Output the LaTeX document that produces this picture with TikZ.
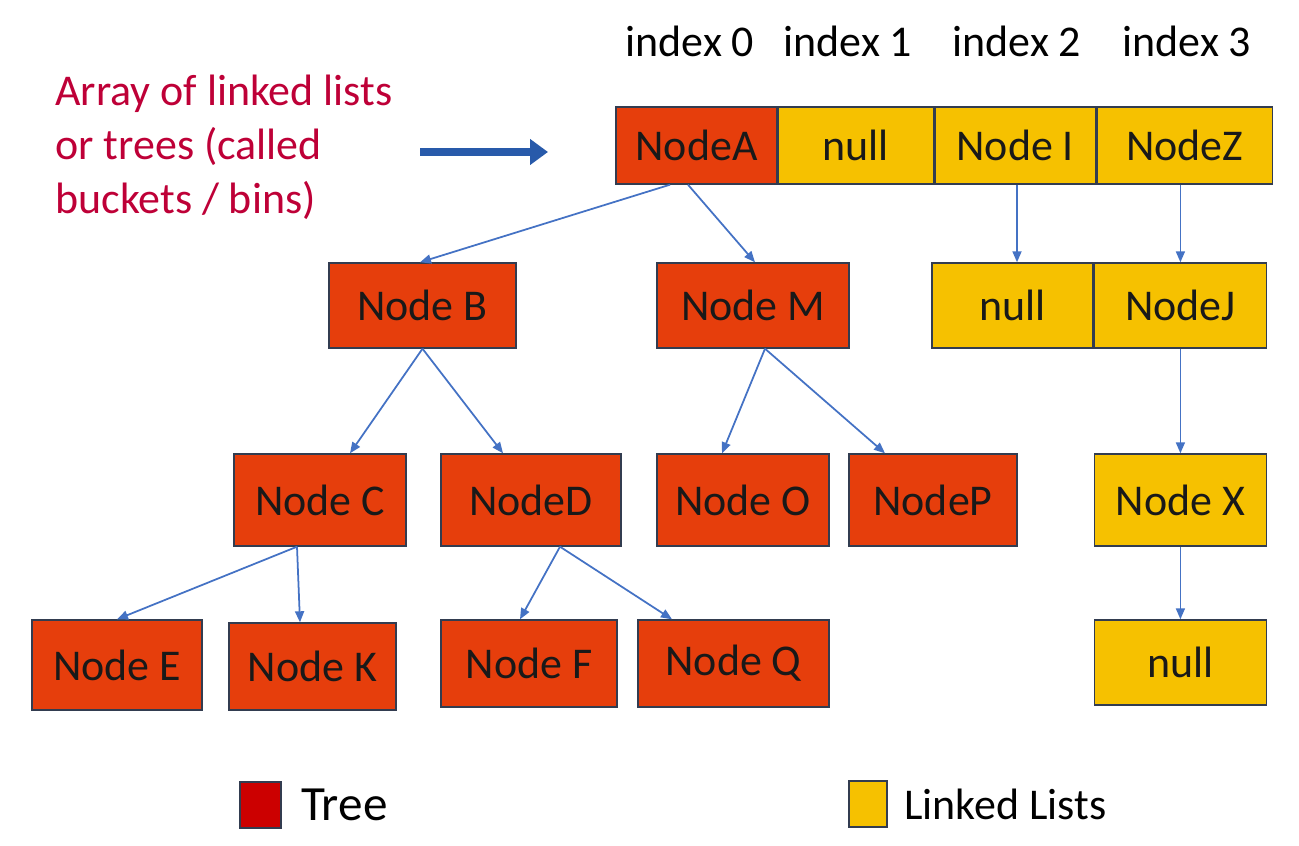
\documentclass[tikz,border=0pt]{standalone}
\usepackage{fontspec}
\setmainfont{Carlito}
\usetikzlibrary{arrows.meta,positioning}
\definecolor{treefill}{RGB}{230,62,12}
\definecolor{listfill}{RGB}{246,193,0}
\definecolor{boxline}{RGB}{50,60,80}
\definecolor{linkblue}{RGB}{68,114,196}
\definecolor{bigblue}{RGB}{40,90,170}
\definecolor{notered}{RGB}{190,0,55}
\definecolor{keyred}{RGB}{204,0,0}
\begin{document}
\begin{tikzpicture}[
 tnode/.style={draw=boxline,line width=0.8pt,fill=treefill,font=\fontsize{25}{30}\selectfont,text=black!90,inner sep=0pt},
 lnode/.style={tnode,fill=listfill},
 idx/.style={font=\fontsize{25}{30}\selectfont,anchor=base,inner sep=0pt},
 key/.style={draw=boxline,line width=0.8pt,inner sep=0pt,minimum height=0.92cm},
 link/.style={->,linkblue,line width=1pt},
 >={Triangle[length=2.2mm,width=1.8mm]}]
\useasboundingbox (0,0) rectangle (25.98,-16.92);
\node[font=\fontsize{25}{30.7}\selectfont,text=notered,align=left,anchor=north west,inner sep=0pt] (note) at (1.1,-1.5)
 {Array of linked lists\\or trees (called\\buckets / bins)};
\coordinate (bigtail) at (8.4,-3.04);
\coordinate (bighead) at (10.96,-3.04);
\draw[bigblue,line width=4.5pt,-{Triangle[length=3.6mm,width=5mm]}] (bigtail) -- (bighead);
\node[idx] (i0) at (13.8,-1.14) {index 0};
\node[idx] (i1) at (16.96,-1.14) {index 1};
\node[idx] (i2) at (20.34,-1.14) {index 2};
\node[idx] (i3) at (23.74,-1.14) {index 3};
\node[tnode,minimum width=3.22cm,minimum height=1.54cm] (a) at (13.93,-2.91) {NodeA};
\node[lnode,minimum width=3.1cm,minimum height=1.54cm,anchor=west] (n1) at (a.east) {null};
\node[lnode,minimum width=3.22cm,minimum height=1.54cm,anchor=west] (ni) at (n1.east) {Node I};
\node[lnode,minimum width=3.5cm,minimum height=1.54cm,anchor=west] (nz) at (ni.east) {NodeZ};
\node[tnode,minimum width=3.74cm,minimum height=1.7cm] (b) at (8.45,-6.11) {Node B};
\node[tnode,minimum width=3.84cm,minimum height=1.7cm] (m) at (15.06,-6.11) {Node M};
\node[lnode,minimum width=3.22cm,minimum height=1.7cm] (n2) at (20.25,-6.11) {null};
\node[lnode,minimum width=3.44cm,minimum height=1.7cm,anchor=west] (nj) at (n2.east) {NodeJ};
\node[tnode,minimum width=3.44cm,minimum height=1.84cm] (c) at (6.40,-10.0) {Node C};
\node[tnode,minimum width=3.6cm,minimum height=1.84cm] (d) at (10.62,-10.0) {NodeD};
\node[tnode,minimum width=3.44cm,minimum height=1.84cm] (o) at (14.86,-10.0) {Node O};
\node[tnode,minimum width=3.36cm,minimum height=1.84cm] (p) at (18.66,-10.0) {NodeP};
\node[lnode,minimum width=3.44cm,minimum height=1.84cm] (x) at (nj.center |- 0,-10.0) {Node X};
\node[tnode,minimum width=3.4cm,minimum height=1.8cm] (e) at (2.34,-13.3) {Node E};
\node[tnode,minimum width=3.34cm,minimum height=1.74cm] (k) at (6.25,-13.33) {Node K};
\node[tnode,minimum width=3.52cm,minimum height=1.74cm] (f) at (10.58,-13.27) {Node F};
\node[tnode,minimum width=3.82cm,minimum height=1.74cm] (q) at (14.67,-13.27) {Node Q};
\node[lnode,minimum width=3.44cm,minimum height=1.7cm] (n3) at (nj.center |- 0,-13.25) {null};
\draw[link] ([xshift=-5.3mm]a.south) -- ([xshift=-0.5mm]b.north);
\draw[link] ([xshift=-1.7mm]a.south) -- ([xshift=0.4mm]m.north);
\draw[link] ([xshift=0.9mm]n2.north |- ni.south) -- ([xshift=0.9mm]n2.north);
\draw[link] (nj.north |- nz.south) -- (nj.north);
\draw[link] (b.south) -- ([xshift=6mm]c.north);
\draw[link] (b.south) -- ([xshift=-5.6mm]d.north);
\draw[link] ([xshift=2.4mm]m.south) -- ([xshift=-4.2mm]o.north);
\draw[link] ([xshift=2.4mm]m.south) -- ([xshift=-9.6mm]p.north);
\draw[link] (nj.south) -- (x.north);
\draw[link] ([xshift=-4.6mm]c.south) -- (e.north);
\draw[link] ([xshift=-4.6mm]c.south) -- ([xshift=-2.5mm]k.north);
\draw[link] ([xshift=5.8mm]d.south) -- ([xshift=-1.8mm]f.north);
\draw[link] ([xshift=5.8mm]d.south) -- ([xshift=-12.3mm]q.north);
\draw[link] (x.south) -- (n3.north);
\node[key,fill=keyred,minimum width=0.82cm] (treekey) at (5.21,-16.1) {};
\node[font=\fontsize{28}{32}\selectfont,inner sep=0pt,right=0.38cm of treekey] (treelab) {Tree};
\node[key,fill=listfill,minimum width=0.76cm] (listkey) at (17.36,-16.08) {};
\node[font=\fontsize{25}{30}\selectfont,inner sep=0pt,right=0.32cm of listkey] (listlab) {Linked Lists};
\end{tikzpicture}
\end{document}
